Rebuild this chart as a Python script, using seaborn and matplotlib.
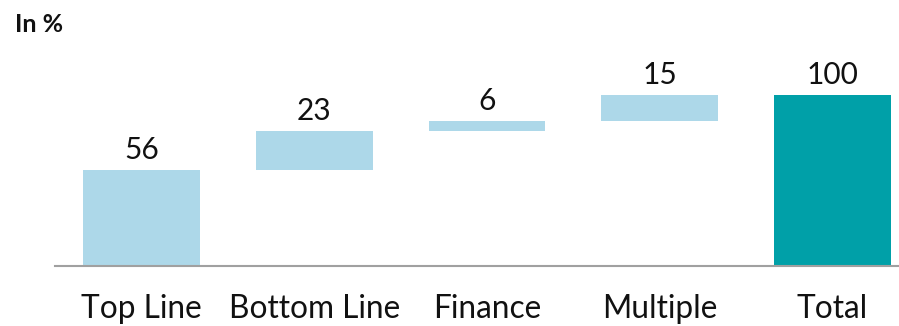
import matplotlib
matplotlib.use("Agg")
import matplotlib.pyplot as plt
import seaborn as sns
import pandas as pd
import numpy as np

categories = ["Top Line", "Bottom Line", "Finance", "Multiple", "Total"]
values = [56, 23, 6, 15, 100]
labels = ["56", "23", "6", "15", "100"]

sns.set_theme(style="white")
plt.rcParams['font.family'] = ['Lato', 'DejaVu Sans']

# waterfall bottoms
bottoms = []
run = 0
for i, v in enumerate(values):
    if i == len(values) - 1:
        bottoms.append(0)
    else:
        bottoms.append(run)
        run += v

colors = ["#ADD8E9"] * 4 + ["#00A0A8"]
df = pd.DataFrame({"cat": categories, "val": values})

fig = plt.figure(figsize=(8.99, 3.26), dpi=100)
ax = fig.add_axes([55/899, 60/326, 1 - 55/899, (266-30)/326])

sns.barplot(data=df, x="cat", y="val", color=colors[0], width=0.677,
            bottom=bottoms, ax=ax, saturation=1)
for p, c in zip(ax.patches, colors):
    p.set_facecolor(c)
    p.set_edgecolor("none")

for i, (v, b) in enumerate(zip(values, bottoms)):
    ax.text(i, b + v + 6.5, labels[i], ha="center", va="baseline", fontsize=21.5, color="#111111")

ax.set_xlim(-0.5007, 4.385)
ax.set_ylim(0, 138)
ax.set_xlabel("")
ax.set_ylabel("")
ax.set_yticks([])
for s in ["top", "right", "left"]:
    ax.spines[s].set_visible(False)
ax.spines["bottom"].set_color("#A0A0A0")
ax.spines["bottom"].set_linewidth(1.5)
ax.tick_params(axis="x", length=0, pad=20, labelsize=22.8, labelcolor="#111111")

fig.text(15/899, 1 - 32/326, "In %", fontsize=18, fontweight="bold", color="#111111", ha="left", va="baseline")

fig.savefig("out.png", dpi=100)
